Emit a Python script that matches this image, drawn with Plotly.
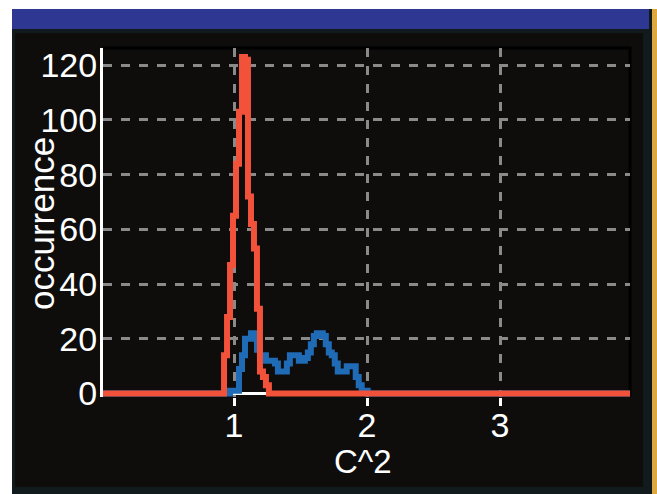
import plotly.graph_objects as go

# ---- histogram data (C^2 distribution) ----
bin_start = 0.925
bin_width = 0.0225
red_counts = [14, 28, 47, 65, 84, 103, 123, 122, 72, 62, 53, 31, 8, 6, 3]
blue_counts = [0, 0, 1, 1, 1, 9, 14, 20, 20, 22, 22, 16, 14, 14, 12, 12, 12, 11,
               8, 8, 8, 11, 14, 14, 14, 12, 12, 13, 15, 18, 21, 22, 22, 21, 18,
               15, 14, 11, 8, 8, 8, 10, 10, 10, 6, 3, 1, 1]
x_ticks = [1, 2, 3]
x_tick_labels = ["1", "2", "3"]
y_ticks = [0, 20, 40, 60, 80, 100, 120]
y_tick_labels = ["0", "20", "40", "60", "80", "100", "120"]
x_range = [0.015, 3.977]
y_range = [-1.28, 126.3]

# ---- page geometry ----
W, H = 657, 494
L, R, T, B = 103, 27, 48, 97

RED = "#f2523a"
BLUE = "#1f6bb6"
GRID = "#8a8a8a"
PANEL = "#0e0d0c"
TEAL = "#111a1c"
BAR = "#2e3792"
GOLD = "#dba93f"
FONT = "Liberation Sans, Arial, sans-serif"


def px_x(p):
    return (p - L) / (W - L - R)


def px_y(p):
    return 1 - (p - T) / (H - T - B)


def steps(counts):
    edges = [bin_start + i * bin_width for i in range(len(counts) + 1)]
    xs = [x_range[0] - 0.1] + edges + [x_range[1] + 0.1]
    ys = [0] + list(counts) + [0, 0]
    return xs, ys


fig = go.Figure()
bx, by = steps(blue_counts)
rx, ry = steps(red_counts)
fig.add_trace(go.Scatter(x=bx, y=by, mode="lines", line=dict(color=BLUE, width=6, shape="hv"),
                         hoverinfo="skip", showlegend=False))
fig.add_trace(go.Scatter(x=rx, y=ry, mode="lines", line=dict(color=RED, width=6, shape="hv"),
                         hoverinfo="skip", showlegend=False))


def rect(x0, y0, x1, y1, color):
    return dict(type="rect", xref="paper", yref="paper", layer="below",
                x0=px_x(x0), x1=px_x(x1), y0=px_y(y1), y1=px_y(y0),
                fillcolor=color, line=dict(width=0))


shapes = [
    rect(12, 9, 652, 494, TEAL),
    rect(15, 33, 643, 487, PANEL),
    rect(12, 9, 649, 29, BAR),
    rect(652, 9, 657, 494, GOLD),
    # black frame along the top and right of the plotting area
    dict(type="path", xref="paper", yref="paper", layer="below",
         path=f"M 0,1 L 1,1 L 1,{px_y(396)}",
         line=dict(color="#000000", width=3)),
]

annotations = [
    dict(text="occurrence", xref="paper", yref="paper", x=px_x(41), y=px_y(224),
         xanchor="center", yanchor="middle", textangle=-90, showarrow=False,
         font=dict(family=FONT, size=35, color="#ffffff")),
    dict(text="C^2", xref="paper", yref="paper", x=px_x(363), y=px_y(461),
         xanchor="center", yanchor="middle", showarrow=False,
         font=dict(family=FONT, size=33, color="#ffffff")),
]

fig.update_layout(
    width=W, height=H,
    margin=dict(l=L, r=R, t=T, b=B, pad=0),
    paper_bgcolor="#ffffff",
    plot_bgcolor="rgba(0,0,0,0)",
    shapes=shapes,
    annotations=annotations,
    font=dict(family=FONT, color="#ffffff"),
    xaxis=dict(range=x_range, tickmode="array", tickvals=x_ticks, ticktext=x_tick_labels,
               showgrid=True, gridcolor=GRID, gridwidth=3, griddash="9px,9px",
               zeroline=False, showline=False,
               layer="below traces", ticklabelstandoff=-10,
               ticks="outside", ticklen=8, tickwidth=3, tickcolor="#ffffff",
               tickfont=dict(family=FONT, size=34, color="#ffffff")),
    yaxis=dict(range=y_range, tickmode="array", tickvals=y_ticks, ticktext=y_tick_labels,
               showgrid=True, gridcolor=GRID, gridwidth=3, griddash="9px,9px",
               zeroline=True, zerolinecolor="#ffffff", zerolinewidth=3,
               showline=True, linecolor="#ffffff", linewidth=3,
               layer="below traces", ticklabelstandoff=-4,
               ticks="", tickfont=dict(family=FONT, size=34, color="#ffffff")),
)

fig.write_html("out.html")
